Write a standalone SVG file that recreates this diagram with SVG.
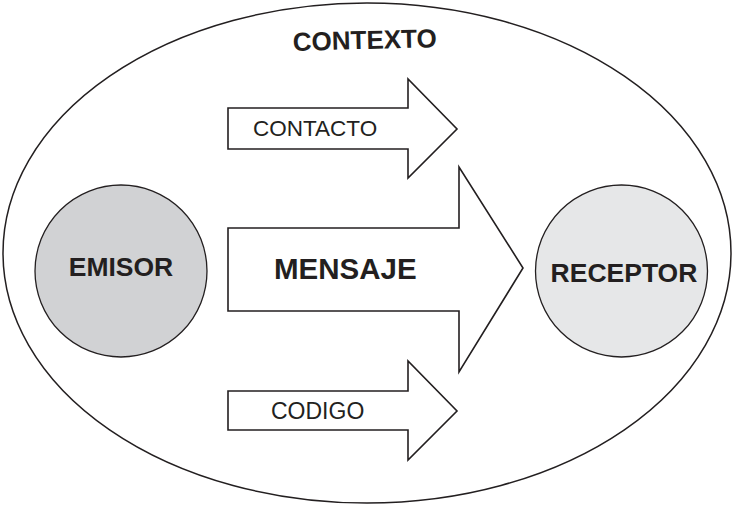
<svg xmlns="http://www.w3.org/2000/svg" width="733" height="507" viewBox="0 0 733 507">
<style>
.arrow{fill:#fff;stroke:#231f20;stroke-width:1.6;stroke-linejoin:miter}
.node{stroke:#231f20;stroke-width:1.3}
.t{font-family:"Liberation Sans",Arial,sans-serif;fill:#231f20}
.b{font-weight:bold}
</style>
<rect width="733" height="507" fill="#fff"/>
<g id="contexto">
<ellipse cx="367" cy="253" rx="364" ry="250" fill="none" stroke="#231f20" stroke-width="1.5"/>
<text class="t b" x="365" y="49" font-size="26" text-anchor="middle" transform="rotate(-1.5 365 49)">CONTEXTO</text>
</g>
<g id="emisor">
<circle class="node" cx="121" cy="271" r="86" fill="#d1d2d4"/>
<text class="t b" x="121" y="276" font-size="26.5" text-anchor="middle">EMISOR</text>
</g>
<g id="receptor">
<circle class="node" cx="621.5" cy="271" r="86" fill="#e6e7e8"/>
<text class="t b" x="624" y="282" font-size="26.5" text-anchor="middle">RECEPTOR</text>
</g>
<g id="connectors">
<g id="contacto">
<polygon class="arrow" points="228,108 408,108 408,79 457,129 408,178 408,149 228,149"/>
<text class="t" x="253" y="136" font-size="22.5">CONTACTO</text>
</g>
<g id="mensaje">
<polygon class="arrow" points="228,228 459,228 459,167 523,268 459,372 459,311 228,311"/>
<text class="t b" x="274" y="279" font-size="29.5">MENSAJE</text>
</g>
<g id="codigo">
<polygon class="arrow" points="228,391 408,391 408,361 457,411 408,460 408,430 228,430"/>
<text class="t" x="271" y="419" font-size="23">CODIGO</text>
</g>
</g>
</svg>
